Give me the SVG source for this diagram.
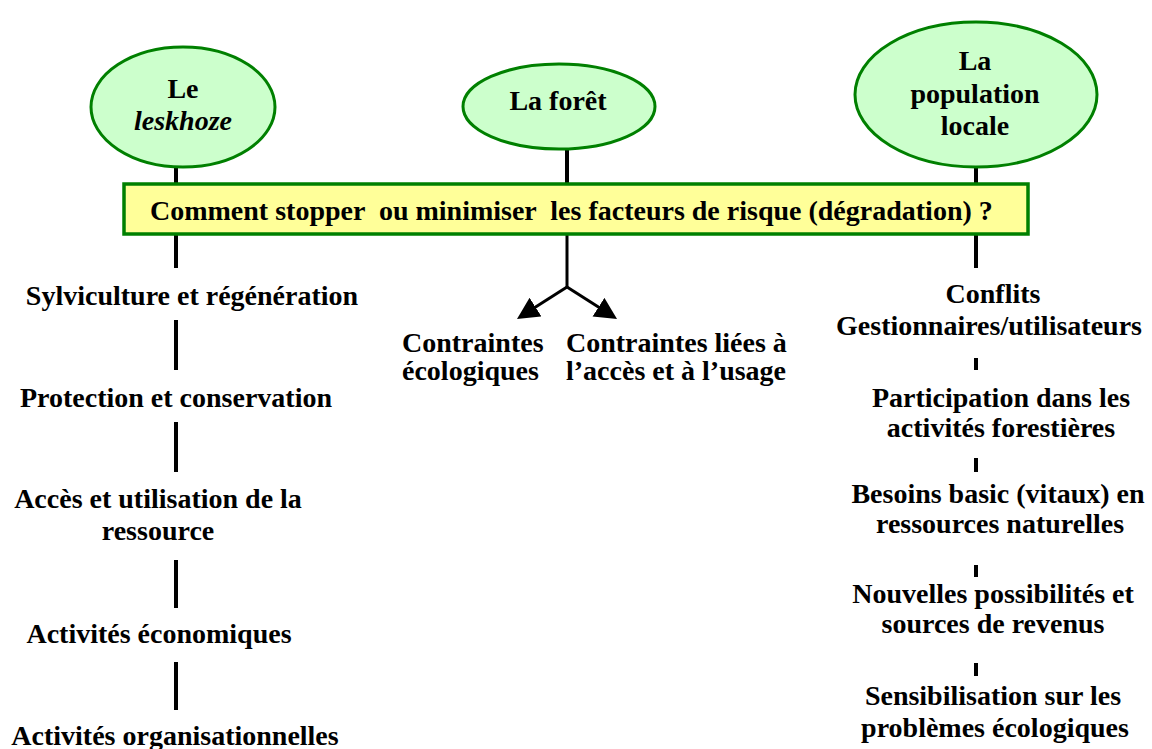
<svg xmlns="http://www.w3.org/2000/svg" width="1152" height="749" viewBox="0 0 1152 749">
<style>
.t{font-family:"Liberation Serif","Times New Roman",serif;font-weight:bold;font-size:28px;fill:#000}
.m{text-anchor:middle}
.i{font-style:italic}
.node{fill:#CCFFCC;stroke:#008000;stroke-width:3}
.box{fill:#FFFF99;stroke:#008000;stroke-width:3.5}
.ln{stroke:#000;stroke-width:4;fill:none}
.ar{stroke:#000;stroke-width:3;fill:none;stroke-linejoin:miter}
</style>
<defs>
<marker id="ah" markerUnits="userSpaceOnUse" markerWidth="24" markerHeight="24" refX="12" refY="11" orient="auto">
<path d="M0,0 L22,11 L0,22 z" fill="#000"/>
</marker>
</defs>
<g id="connectors">
<line class="ln" x1="176" y1="160" x2="176" y2="186"/>
<line class="ln" x1="567" y1="140" x2="567" y2="186"/>
<line class="ln" x1="976" y1="160" x2="976" y2="186"/>
<line class="ln" x1="176" y1="234" x2="176" y2="268"/>
<line class="ln" x1="176" y1="320" x2="176" y2="370"/>
<line class="ln" x1="176" y1="422" x2="176" y2="472"/>
<line class="ln" x1="176" y1="560" x2="176" y2="608"/>
<line class="ln" x1="176" y1="662" x2="176" y2="710"/>
<line class="ar" x1="567" y1="234" x2="567" y2="287"/>
<polyline class="ar" points="567,287 525.4,313.6" marker-end="url(#ah)"/>
<polyline class="ar" points="567,287 608.6,313.6" marker-end="url(#ah)"/>
<line class="ln" x1="976" y1="234" x2="976" y2="268"/>
<line class="ln" x1="976" y1="358" x2="976" y2="370"/>
<line class="ln" x1="976" y1="458" x2="976" y2="472"/>
<line class="ln" x1="976" y1="565" x2="976" y2="577"/>
<line class="ln" x1="976" y1="663" x2="976" y2="676"/>
</g>
<g id="leskhoze">
<ellipse class="node" cx="183" cy="107" rx="92" ry="60"/>
<text class="t m" x="183" y="98">Le</text>
<text class="t m i" x="183" y="130">leskhoze</text>
</g>
<g id="foret">
<ellipse class="node" cx="559" cy="106.5" rx="96" ry="42.5"/>
<text class="t m" x="558" y="110">La forêt</text>
</g>
<g id="population">
<ellipse class="node" cx="976" cy="94.5" rx="121" ry="72.5"/>
<text class="t m" x="975" y="70">La</text>
<text class="t m" x="975" y="103">population</text>
<text class="t m" x="975" y="135">locale</text>
</g>
<g id="question">
<rect class="box" x="124" y="184" width="904" height="50"/>
<text class="t" x="150" y="220" xml:space="preserve" style="white-space:pre">Comment stopper  ou minimiser  les facteurs de risque (dégradation) ?</text>
</g>
<g id="sylviculture"><text class="t m" x="192" y="305">Sylviculture et régénération</text></g>
<g id="protection"><text class="t m" x="176" y="407">Protection et conservation</text></g>
<g id="acces"><text class="t m" x="158" y="508">Accès et utilisation de la</text><text class="t m" x="158" y="540">ressource</text></g>
<g id="economiques"><text class="t m" x="159" y="643">Activités économiques</text></g>
<g id="organisationnelles"><text class="t m" x="175" y="745">Activités organisationnelles</text></g>
<g id="contraintes-eco"><text class="t" x="402" y="352">Contraintes</text><text class="t" x="402" y="380">écologiques</text></g>
<g id="contraintes-acces"><text class="t" x="566" y="352">Contraintes liées à</text><text class="t" x="566" y="380">l’accès et à l’usage</text></g>
<g id="conflits"><text class="t m" x="993" y="303">Conflits</text><text class="t m" x="989" y="335">Gestionnaires/utilisateurs</text></g>
<g id="participation"><text class="t m" x="1001" y="407">Participation dans les</text><text class="t m" x="1001" y="437">activités forestières</text></g>
<g id="besoins"><text class="t m" x="998" y="503">Besoins basic (vitaux) en</text><text class="t m" x="1000" y="533">ressources naturelles</text></g>
<g id="nouvelles"><text class="t m" x="993" y="603">Nouvelles possibilités et</text><text class="t m" x="993" y="633">sources de revenus</text></g>
<g id="sensibilisation"><text class="t m" x="993" y="705">Sensibilisation sur les</text><text class="t m" x="995" y="737">problèmes écologiques</text></g>
</svg>
